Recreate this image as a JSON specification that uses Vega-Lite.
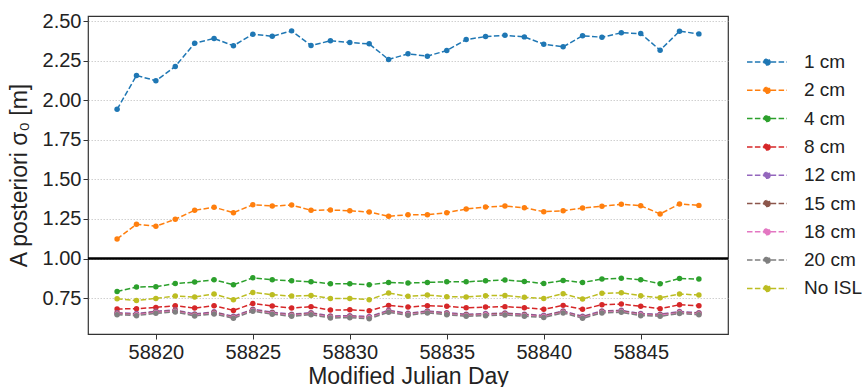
{
  "$schema": "https://vega.github.io/schema/vega-lite/v6.json",
  "width": 640,
  "height": 318,
  "autosize": {"type": "none"},
  "padding": {"left": 88, "top": 16, "right": 134, "bottom": 53},
  "background": "white",
  "config": {
    "font": "Liberation Sans",
    "view": {"stroke": "#333333", "strokeWidth": 1.2},
    "axis": {
      "domain": false,
      "tickColor": "#333333",
      "tickSize": 5,
      "tickWidth": 1,
      "labelFont": "Liberation Sans",
      "labelFontSize": 20,
      "labelColor": "#222222",
      "titleFont": "Liberation Sans",
      "titleFontSize": 23,
      "titleFontWeight": "normal",
      "titleColor": "#222222"
    }
  },
  "layer": [
    {
      "data": {
        "values": [
          {"d": 58818, "1 cm": 1.943, "2 cm": 1.124, "4 cm": 0.792, "8 cm": 0.681, "12 cm": 0.658, "15 cm": 0.654, "18 cm": 0.650, "20 cm": 0.645, "No ISL": 0.746},
          {"d": 58819, "1 cm": 2.157, "2 cm": 1.217, "4 cm": 0.820, "8 cm": 0.683, "12 cm": 0.652, "15 cm": 0.648, "18 cm": 0.644, "20 cm": 0.639, "No ISL": 0.735},
          {"d": 58820, "1 cm": 2.124, "2 cm": 1.204, "4 cm": 0.822, "8 cm": 0.691, "12 cm": 0.667, "15 cm": 0.663, "18 cm": 0.659, "20 cm": 0.654, "No ISL": 0.748},
          {"d": 58821, "1 cm": 2.214, "2 cm": 1.248, "4 cm": 0.842, "8 cm": 0.702, "12 cm": 0.675, "15 cm": 0.671, "18 cm": 0.667, "20 cm": 0.662, "No ISL": 0.763},
          {"d": 58822, "1 cm": 2.361, "2 cm": 1.305, "4 cm": 0.851, "8 cm": 0.687, "12 cm": 0.650, "15 cm": 0.646, "18 cm": 0.642, "20 cm": 0.637, "No ISL": 0.757},
          {"d": 58823, "1 cm": 2.391, "2 cm": 1.324, "4 cm": 0.866, "8 cm": 0.702, "12 cm": 0.663, "15 cm": 0.659, "18 cm": 0.655, "20 cm": 0.650, "No ISL": 0.776},
          {"d": 58824, "1 cm": 2.345, "2 cm": 1.290, "4 cm": 0.834, "8 cm": 0.672, "12 cm": 0.635, "15 cm": 0.631, "18 cm": 0.627, "20 cm": 0.622, "No ISL": 0.740},
          {"d": 58825, "1 cm": 2.418, "2 cm": 1.340, "4 cm": 0.878, "8 cm": 0.716, "12 cm": 0.680, "15 cm": 0.676, "18 cm": 0.672, "20 cm": 0.667, "No ISL": 0.786},
          {"d": 58826, "1 cm": 2.405, "2 cm": 1.332, "4 cm": 0.866, "8 cm": 0.700, "12 cm": 0.661, "15 cm": 0.657, "18 cm": 0.653, "20 cm": 0.648, "No ISL": 0.771},
          {"d": 58827, "1 cm": 2.439, "2 cm": 1.338, "4 cm": 0.859, "8 cm": 0.687, "12 cm": 0.648, "15 cm": 0.644, "18 cm": 0.640, "20 cm": 0.635, "No ISL": 0.763},
          {"d": 58828, "1 cm": 2.347, "2 cm": 1.305, "4 cm": 0.853, "8 cm": 0.696, "12 cm": 0.658, "15 cm": 0.654, "18 cm": 0.650, "20 cm": 0.645, "No ISL": 0.767},
          {"d": 58829, "1 cm": 2.376, "2 cm": 1.307, "4 cm": 0.841, "8 cm": 0.674, "12 cm": 0.637, "15 cm": 0.633, "18 cm": 0.629, "20 cm": 0.624, "No ISL": 0.748},
          {"d": 58830, "1 cm": 2.365, "2 cm": 1.302, "4 cm": 0.841, "8 cm": 0.676, "12 cm": 0.639, "15 cm": 0.635, "18 cm": 0.631, "20 cm": 0.626, "No ISL": 0.748},
          {"d": 58831, "1 cm": 2.357, "2 cm": 1.294, "4 cm": 0.834, "8 cm": 0.670, "12 cm": 0.633, "15 cm": 0.629, "18 cm": 0.625, "20 cm": 0.620, "No ISL": 0.740},
          {"d": 58832, "1 cm": 2.258, "2 cm": 1.267, "4 cm": 0.849, "8 cm": 0.704, "12 cm": 0.673, "15 cm": 0.669, "18 cm": 0.665, "20 cm": 0.660, "No ISL": 0.782},
          {"d": 58833, "1 cm": 2.294, "2 cm": 1.277, "4 cm": 0.845, "8 cm": 0.693, "12 cm": 0.654, "15 cm": 0.650, "18 cm": 0.646, "20 cm": 0.641, "No ISL": 0.761},
          {"d": 58834, "1 cm": 2.279, "2 cm": 1.277, "4 cm": 0.849, "8 cm": 0.702, "12 cm": 0.669, "15 cm": 0.665, "18 cm": 0.661, "20 cm": 0.656, "No ISL": 0.769},
          {"d": 58835, "1 cm": 2.315, "2 cm": 1.290, "4 cm": 0.853, "8 cm": 0.698, "12 cm": 0.658, "15 cm": 0.654, "18 cm": 0.650, "20 cm": 0.645, "No ISL": 0.759},
          {"d": 58836, "1 cm": 2.384, "2 cm": 1.313, "4 cm": 0.853, "8 cm": 0.689, "12 cm": 0.648, "15 cm": 0.644, "18 cm": 0.640, "20 cm": 0.635, "No ISL": 0.757},
          {"d": 58837, "1 cm": 2.403, "2 cm": 1.326, "4 cm": 0.859, "8 cm": 0.693, "12 cm": 0.652, "15 cm": 0.648, "18 cm": 0.644, "20 cm": 0.639, "No ISL": 0.765},
          {"d": 58838, "1 cm": 2.411, "2 cm": 1.332, "4 cm": 0.864, "8 cm": 0.696, "12 cm": 0.656, "15 cm": 0.652, "18 cm": 0.648, "20 cm": 0.643, "No ISL": 0.767},
          {"d": 58839, "1 cm": 2.401, "2 cm": 1.321, "4 cm": 0.855, "8 cm": 0.689, "12 cm": 0.648, "15 cm": 0.644, "18 cm": 0.640, "20 cm": 0.635, "No ISL": 0.755},
          {"d": 58840, "1 cm": 2.355, "2 cm": 1.296, "4 cm": 0.842, "8 cm": 0.679, "12 cm": 0.641, "15 cm": 0.637, "18 cm": 0.633, "20 cm": 0.628, "No ISL": 0.748},
          {"d": 58841, "1 cm": 2.338, "2 cm": 1.302, "4 cm": 0.861, "8 cm": 0.704, "12 cm": 0.669, "15 cm": 0.665, "18 cm": 0.661, "20 cm": 0.656, "No ISL": 0.778},
          {"d": 58842, "1 cm": 2.408, "2 cm": 1.319, "4 cm": 0.849, "8 cm": 0.679, "12 cm": 0.635, "15 cm": 0.631, "18 cm": 0.627, "20 cm": 0.622, "No ISL": 0.744},
          {"d": 58843, "1 cm": 2.399, "2 cm": 1.330, "4 cm": 0.870, "8 cm": 0.708, "12 cm": 0.669, "15 cm": 0.665, "18 cm": 0.661, "20 cm": 0.656, "No ISL": 0.780},
          {"d": 58844, "1 cm": 2.427, "2 cm": 1.343, "4 cm": 0.876, "8 cm": 0.712, "12 cm": 0.673, "15 cm": 0.669, "18 cm": 0.665, "20 cm": 0.660, "No ISL": 0.784},
          {"d": 58845, "1 cm": 2.422, "2 cm": 1.334, "4 cm": 0.866, "8 cm": 0.698, "12 cm": 0.652, "15 cm": 0.648, "18 cm": 0.644, "20 cm": 0.639, "No ISL": 0.765},
          {"d": 58846, "1 cm": 2.317, "2 cm": 1.282, "4 cm": 0.841, "8 cm": 0.683, "12 cm": 0.648, "15 cm": 0.644, "18 cm": 0.640, "20 cm": 0.635, "No ISL": 0.752},
          {"d": 58847, "1 cm": 2.437, "2 cm": 1.345, "4 cm": 0.874, "8 cm": 0.708, "12 cm": 0.665, "15 cm": 0.661, "18 cm": 0.657, "20 cm": 0.652, "No ISL": 0.776},
          {"d": 58848, "1 cm": 2.420, "2 cm": 1.336, "4 cm": 0.870, "8 cm": 0.702, "12 cm": 0.658, "15 cm": 0.654, "18 cm": 0.650, "20 cm": 0.645, "No ISL": 0.769}
        ]
      },
      "transform": [
        {"fold": ["1 cm", "2 cm", "4 cm", "8 cm", "12 cm", "15 cm", "18 cm", "20 cm", "No ISL"], "as": ["series", "value"]}
      ],
      "encoding": {
        "x": {
          "field": "d", "type": "quantitative",
          "scale": {"domain": [58816.5, 58849.5], "nice": false, "zero": false},
          "axis": {"values": [58820, 58825, 58830, 58835, 58840, 58845], "format": "d", "grid": false, "labelPadding": 3, "title": "Modified Julian Day", "titlePadding": 3}
        },
        "y": {
          "field": "value", "type": "quantitative",
          "scale": {"domain": [0.523, 2.533], "nice": false, "zero": false},
          "axis": {"values": [0.75, 1.0, 1.25, 1.5, 1.75, 2.0, 2.25, 2.5], "format": ".2f", "grid": true, "gridColor": "#c4c4c4", "gridDash": [1.5, 1.5], "gridWidth": 0.8, "labelPadding": 2, "title": "A posteriori σ₀ [m]", "titlePadding": 11}
        },
        "color": {
          "field": "series", "type": "nominal",
          "scale": {
            "domain": ["1 cm", "2 cm", "4 cm", "8 cm", "12 cm", "15 cm", "18 cm", "20 cm", "No ISL"],
            "range": ["#1f77b4", "#ff7f0e", "#2ca02c", "#d62728", "#9467bd", "#8c564b", "#e377c2", "#7f7f7f", "#bcbd22"]
          },
          "legend": {
            "title": null,
            "orient": "none",
            "legendX": 668,
            "legendY": 35,
            "symbolType": "M-2,0H2M0.3,0A0.3,0.3,0,1,1,-0.3,0A0.3,0.3,0,1,1,0.3,0Z",
            "symbolSize": 400,
            "symbolStrokeWidth": 1.5,
            "symbolDash": [5.5, 2.4],
            "labelOffset": 26,
            "labelFont": "Liberation Sans",
            "labelFontSize": 19,
            "labelColor": "#222222",
            "rowPadding": 7.3,
            "padding": 0,
            "encode": {
              "symbols": {
                "update": {
                  "fill": {"scale": "color", "field": "value"},
                  "stroke": {"scale": "color", "field": "value"},
                  "opacity": {"value": 1}
                }
              }
            }
          }
        }
      },
      "layer": [
        {"mark": {"type": "line", "strokeDash": [5.5, 2.4], "strokeWidth": 1.5}},
        {"mark": {"type": "point", "filled": true, "size": 30, "opacity": 1}}
      ]
    },
    {
      "data": {"values": [{"ref": 1}]},
      "mark": {"type": "rule", "color": "black", "strokeWidth": 2.5},
      "encoding": {"y": {"field": "ref", "type": "quantitative"}}
    }
  ]
}
